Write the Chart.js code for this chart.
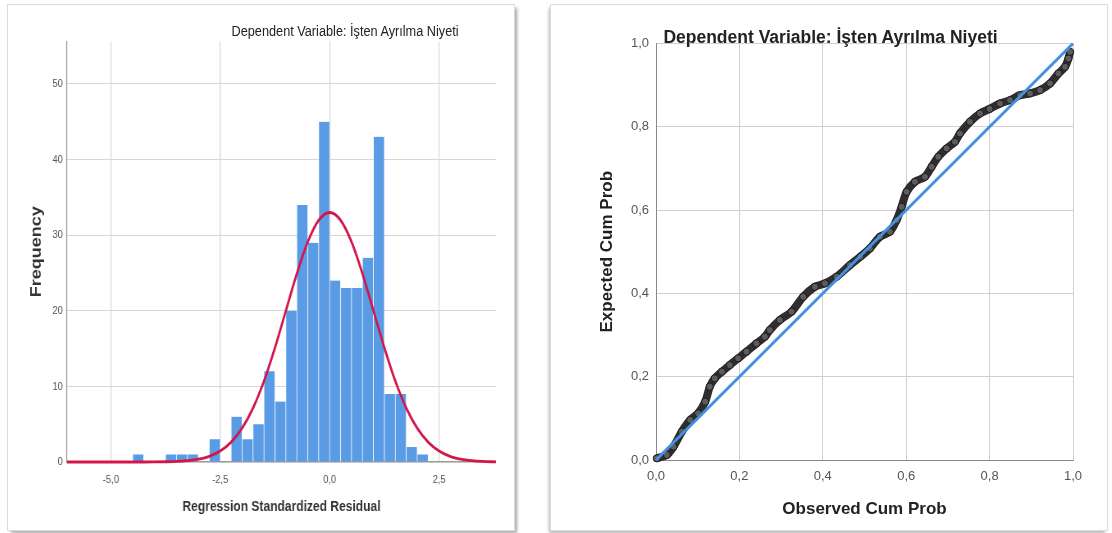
<!DOCTYPE html>
<html><head><meta charset="utf-8">
<script src="https://cdn.jsdelivr.net/npm/chart.js@4.4.1/dist/chart.umd.min.js"></script>
<style>
html,body{margin:0;padding:0;background:#fff;width:1112px;height:533px;overflow:hidden;}
.panel{position:absolute;background:#fff;overflow:hidden;}
#p1{left:8px;top:5px;width:506px;height:525px;box-shadow:0 0 0 1px #dcdcdc, 3px 3px 3px rgba(0,0,0,0.35);overflow:visible;}
#p2{left:551px;top:5px;width:556px;height:525px;box-shadow:0 0 0 1px #dcdcdc, -2px 3px 3px rgba(0,0,0,0.3);overflow:visible;}
#w1{position:absolute;left:0;top:0;width:617px;height:525px;transform:scaleX(0.8201);transform-origin:0 0;}
canvas{position:absolute;left:0;top:0;}
.ttl{position:absolute;white-space:nowrap;color:#222;transform:translate(-50%,-50%);line-height:1;}
#t1{left:411px;top:25.6px;font:15.5px 'Liberation Sans',Arial,sans-serif;}
#t2{left:279.5px;top:32px;font:bold 17.5px 'Liberation Sans',Arial,sans-serif;}
</style></head>
<body>
<div class="panel" id="p1"><div id="w1"><canvas id="c1" width="617" height="525"></canvas><div class="ttl" id="t1">Dependent Variable: İşten Ayrılma Niyeti</div></div></div>
<div class="panel" id="p2"><canvas id="c2" width="556" height="525"></canvas><div class="ttl" id="t2">Dependent Variable: İşten Ayrılma Niyeti</div></div>
<script>
// ---- Histogram data (bin centres, width 0.25) ----
const binCenters = [-4.375,-4.125,-3.875,-3.625,-3.375,-3.125,-2.875,-2.625,-2.375,-2.125,-1.875,-1.625,-1.375,-1.125,-0.875,-0.625,-0.375,-0.125,0.125,0.375,0.625,0.875,1.125,1.375,1.625,1.875,2.125];
const binCounts  = [1,0,0,1,1,1,0,3,0,6,3,5,12,8,20,34,29,45,24,23,23,27,43,9,9,2,1];
// ---- Normal curve ----
const curveX = [-6,-5.5,-5,-4.5,-4.25,-4,-3.75,-3.5,-3.25,-3,-2.75,-2.5,-2.25,-2,-1.75,-1.5,-1.25,-1,-0.75,-0.5,-0.25,0,0.25,0.5,0.75,1,1.25,1.5,1.75,2,2.25,2.5,2.75,3,3.25,3.5,3.8];
const curveY = [0,0,0,0,0,0.01,0.03,0.07,0.17,0.37,0.75,1.45,2.63,4.47,7.14,10.71,15.11,20.02,24.91,29.12,31.98,33,31.98,29.12,24.91,20.02,15.11,10.71,7.14,4.47,2.63,1.45,0.75,0.37,0.17,0.07,0.02];
const histXTicks = [-5,-2.5,0,2.5];
const histYTicks = [0,10,20,30,40,50];
// ---- P-P plot data ----
const ppObserved = [0.002,0.026,0.042,0.062,0.082,0.101,0.118,0.129,0.141,0.158,0.177,0.197,0.217,0.241,0.261,0.273,0.297,0.325,0.353,0.381,0.405,0.433,0.465,0.49,0.513,0.537,0.561,0.577,0.589,0.601,0.621,0.645,0.661,0.677,0.697,0.717,0.729,0.753,0.777,0.8,0.825,0.849,0.873,0.897,0.921,0.945,0.965,0.981,0.989,0.993];
const ppExpected = [0.004,0.012,0.032,0.068,0.096,0.112,0.14,0.176,0.196,0.212,0.228,0.244,0.26,0.28,0.296,0.312,0.336,0.356,0.392,0.416,0.424,0.44,0.468,0.488,0.508,0.536,0.548,0.576,0.608,0.644,0.668,0.68,0.704,0.728,0.748,0.764,0.784,0.812,0.832,0.843,0.856,0.864,0.876,0.88,0.888,0.904,0.928,0.944,0.964,0.98];
const refLineX = [0,1];
const refLineY = [0,1];
const ppTicks = [0,0.2,0.4,0.6,0.8,1.0];

const fmt = v => Number(v).toFixed(1).replace('.', ',');
const SANS = "'Liberation Sans',Arial,sans-serif";

new Chart(document.getElementById('c1'), {
  type: 'bar',
  data: { datasets: [
    { type:'line', data: curveX.map((x,i)=>({x:x, y:curveY[i]})), borderColor:'#d3164a', borderWidth:2.8,
      pointRadius:0, cubicInterpolationMode:'monotone', order:0, clip:4 },
    { type:'bar', data: binCenters.map((x,i)=>({x:x, y:binCounts[i]})), backgroundColor:'#5a9be6',
      borderColor:'rgba(255,255,255,0.65)', borderWidth:{left:0.7,right:0.7,top:0,bottom:0},
      categoryPercentage:1, barPercentage:1, order:1 }
  ]},
  options: {
    responsive:false, animation:false, events:[],
    layout:{padding:{left:0,right:22,top:36.6,bottom:0}},
    plugins:{legend:{display:false}, tooltip:{enabled:false}},
    scales:{
      x:{ type:'linear', min:-6, max:3.8, offset:false,
        afterBuildTicks: s => { s.ticks = histXTicks.map(v=>({value:v})); },
        afterFit: s => { s.height = 68; },
        grid:{color:'#d6d6d6', drawTicks:false, offset:false, lineWidth:1.2},
        border:{display:true, color:'#9a9a9a', width:1.2},
        ticks:{padding:11, color:'#555', font:{family:SANS, size:11.5}, callback: v => fmt(v), maxRotation:0},
        title:{display:true, text:'Regression Standardized Residual', color:'#333',
          font:{family:SANS, size:14.7, weight:'bold'}, padding:{top:0,bottom:14}} },
      y:{ type:'linear', min:0, max:55.6,
        afterBuildTicks: s => { s.ticks = histYTicks.map(v=>({value:v})); },
        afterFit: s => { s.width = 72; },
        grid:{color:'#d6d6d6', drawTicks:false},
        border:{display:true, color:'#9a9a9a', width:1.2},
        ticks:{padding:5, color:'#555', font:{family:SANS, size:11.5}, callback: v => String(v)},
        title:{display:true, text:'Frequency', color:'#333', font:{family:SANS, size:18, weight:'bold'}, padding:{top:24.6,bottom:0}} }
    }
  }
});

new Chart(document.getElementById('c2'), {
  type: 'scatter',
  data: { datasets: [
    { data: refLineX.map((x,i)=>({x:x, y:refLineY[i]})), showLine:true, borderColor:'#4a8fde', borderWidth:3,
      pointRadius:0, order:0, clip:3 },
    { data: ppObserved.map((x,i)=>({x:x, y:ppExpected[i]})), showLine:true, tension:0.3,
      borderColor:'#2e2e2e', borderWidth:8, pointRadius:3.6, pointBackgroundColor:'#5c5c5c',
      pointBorderColor:'#1c1c1c', pointBorderWidth:1, order:1, clip:6 }
  ]},
  options: {
    responsive:false, animation:false, events:[],
    layout:{padding:{left:0,right:34,top:38.5,bottom:0}},
    plugins:{legend:{display:false}, tooltip:{enabled:false}},
    scales:{
      x:{ type:'linear', min:0, max:1,
        afterBuildTicks: s => { s.ticks = ppTicks.map(v=>({value:v})); },
        afterFit: s => { s.height = 70; },
        grid:{color:'#d0d0d0', drawTicks:false},
        border:{display:true, color:'#8a8a8a'},
        ticks:{padding:9, color:'#555', font:{family:SANS, size:13}, callback: v => fmt(v), maxRotation:0},
        title:{display:true, text:'Observed Cum Prob', color:'#222', font:{family:SANS, size:17, weight:'bold'}, padding:{top:0,bottom:10}} },
      y:{ type:'linear', min:0, max:1,
        afterBuildTicks: s => { s.ticks = ppTicks.map(v=>({value:v})); },
        afterFit: s => { s.width = 105; },
        grid:{color:'#d0d0d0', drawTicks:false},
        border:{display:true, color:'#8a8a8a'},
        ticks:{padding:7, color:'#555', font:{family:SANS, size:13}, callback: v => fmt(v)},
        title:{display:true, text:'Expected Cum Prob', color:'#222', font:{family:SANS, size:17, weight:'bold'}, padding:{top:46,bottom:0}} }
    }
  }
});
</script>
</body></html>
